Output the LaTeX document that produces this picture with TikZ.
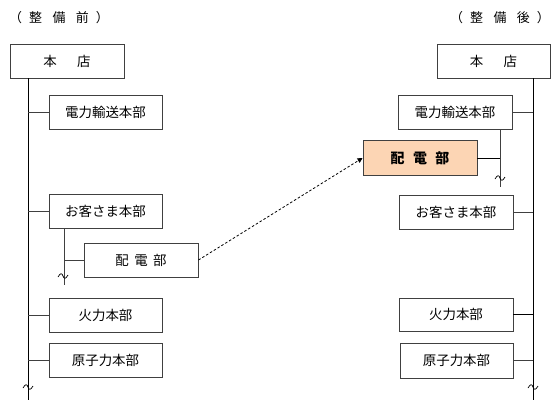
\documentclass[tikz,border=0pt]{standalone}
\usepackage{fontspec}
\newfontfamily\cjk{Noto Sans CJK JP}
\usetikzlibrary{arrows.meta}
\definecolor{boxline}{HTML}{404040}
\definecolor{peach}{HTML}{FCD5B4}
\tikzset{
  orgbox/.style={draw=boxline, line width=0.9bp, fill=white, minimum width=113bp, minimum height=34bp, inner sep=0pt, font=\cjk\fontsize{13.5}{15}\selectfont},
  hibox/.style={orgbox, fill=peach, font=\cjk\bfseries\fontsize{14}{16}\selectfont},
  trunk/.style={draw=black, line width=0.9bp},
  twig/.style={draw=boxline, line width=0.9bp},
  titletext/.style={font=\cjk\fontsize{13}{15}\selectfont, inner sep=0pt},
  tildemark/.style={draw=black, line width=0.7bp},
  moveline/.style={draw=black, line width=0.8bp, dash pattern=on 2.5bp off 2bp, -{Triangle[length=5bp,width=5bp]}}
}
\begin{document}
\begin{tikzpicture}[x=1bp,y=-1bp]
\useasboundingbox (0,0) rectangle (558,414);
% titles
\node[titletext] (ltitle) at (59,18) {（\hspace{0.55em}整\hspace{0.8em}備\hspace{0.8em}前\hspace{0.55em}）};
\node[titletext] (rtitle) at (500,18) {（\hspace{0.55em}整\hspace{0.8em}備\hspace{0.8em}後\hspace{0.55em}）};
% left coordinates
\coordinate (lend) at (28,400);
\coordinate (lsub) at (64,285);
% left nodes
\node[orgbox, minimum width=114bp] (lhq) at (67,61) {本\hspace{1.5em}店};
\node[orgbox] (le) at (105.5,112.5) {電力輸送本部};
\node[orgbox] (lc) at (105.5,211) {お客さま本部};
\node[orgbox, minimum width=114bp] (lhd) at (141,260) {配\hspace{0.4em}電\hspace{0.4em}部};
\node[orgbox] (lt) at (105.5,315) {火力本部};
\node[orgbox] (ln) at (105.5,360) {原子力本部};
% left lines
\draw[trunk] (lhq.south -| lend) -- (lend);
\draw[twig] (le.west -| lend) -- (le.west);
\draw[twig] (lc.west -| lend) -- (lc.west);
\draw[twig] (lt.west -| lend) -- (lt.west);
\draw[twig] (ln.west -| lend) -- (ln.west);
\draw[twig] (lc.south -| lsub) -- (lsub);
\draw[twig] (lhd.west -| lsub) -- (lhd.west);
% left tildes
\draw[tildemark] (23,388) .. controls (25.5,383.5) and (27,384) .. (28,387) .. controls (29,390) and (30.5,390.5) .. (33,386);
\draw[tildemark] (58,277) .. controls (60.5,272.5) and (62,273) .. (63,276) .. controls (64,279) and (65.5,279.5) .. (68,275);
% right coordinates
\coordinate (rend) at (533,400);
\coordinate (rsub) at (500,187);
% right nodes
\node[orgbox] (rhq) at (493.5,61) {本\hspace{1.5em}店};
\node[orgbox, minimum width=114bp] (re) at (455,112) {電力輸送本部};
\node[hibox, minimum width=114bp, minimum height=35bp] (rhd) at (420,158) {配\hspace{0.6em}電\hspace{0.6em}部};
\node[orgbox, minimum width=114bp] (rc) at (456,212) {お客さま本部};
\node[orgbox, minimum width=114bp, minimum height=33bp] (rt) at (456,314.5) {火力本部};
\node[orgbox, minimum height=35bp] (rn) at (456.5,360.5) {原子力本部};
% right lines
\draw[trunk] (rhq.south -| rend) -- (rend);
\draw[twig] (re.east) -- (re.east -| rend);
\draw[twig] (rc.east) -- (rc.east -| rend);
\draw[trunk] (rt.east) -- (rt.east -| rend);
\draw[twig] (rn.east) -- (rn.east -| rend);
\draw[twig] (re.south -| rsub) -- (rsub);
\draw[trunk] (rhd.east) -- (rhd.east -| rsub);
% right tildes
\draw[tildemark] (528,388) .. controls (530.5,383.5) and (532,384) .. (533,387) .. controls (534,390) and (535.5,390.5) .. (538,386);
\draw[tildemark] (495,179) .. controls (497.5,174.5) and (499,175) .. (500,178) .. controls (501,181) and (502.5,181.5) .. (505,177);
% move arrow
\draw[moveline] (lhd.east) -- (rhd.west);
\end{tikzpicture}
\end{document}
